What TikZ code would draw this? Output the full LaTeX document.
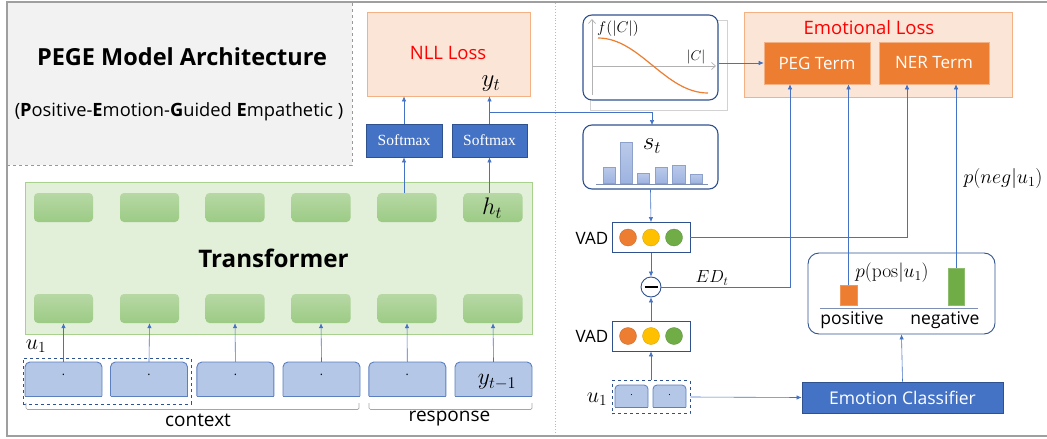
\RequirePackage{fix-cm}
\documentclass[tikz,border=0pt]{standalone}
\usepackage[no-math]{fontspec}
\setmainfont{Open Sans}
\newfontfamily\serifx{Liberation Serif}
\usetikzlibrary{arrows.meta,calc}
\definecolor{lossfill}{HTML}{FBE5D6}
\definecolor{lossdraw}{HTML}{F4B183}
\definecolor{mblue}{HTML}{4472C4}
\definecolor{dblue}{HTML}{2F528F}
\definecolor{lblue}{HTML}{B4C7E7}
\definecolor{lbluedraw}{HTML}{5B7FBF}
\definecolor{tfill}{HTML}{E2F0D9}
\definecolor{tdraw}{HTML}{A9D18E}
\definecolor{gtop}{HTML}{B7D8A4}
\definecolor{gbot}{HTML}{9CCB85}
\definecolor{orng}{HTML}{ED7D31}
\definecolor{yllw}{HTML}{FFC000}
\definecolor{grn}{HTML}{70AD47}
\definecolor{titlegray}{HTML}{F2F2F2}
\definecolor{barblue}{HTML}{9DB3E0}
\definecolor{redtxt}{HTML}{FF0000}
\newcommand{\fs}[1]{\fontsize{#1}{#1}\selectfont}
\tikzset{
  arr/.style={draw=mblue, line width=0.6pt, -{Latex[length=5pt,width=4.5pt]}},
  line/.style={draw=mblue, line width=0.6pt},
  lossbox/.style={draw=lossdraw, fill=lossfill, line width=0.8pt, inner sep=0pt},
  smbox/.style={draw=dblue, fill=mblue, line width=0.8pt, inner sep=0pt, text=white, font=\serifx\fs{15.5}},
  termbox/.style={draw=lossdraw, fill=orng, line width=0.6pt, inner sep=0pt, text=white, font=\fs{17}},
  gblock/.style={rounded corners=4pt, top color=gtop, bottom color=gbot, draw=none, inner sep=0pt, minimum width=59pt, minimum height=29pt},
  rbox/.style={draw=dblue, rounded corners=9pt, line width=1.1pt, inner sep=0pt, fill=white},
  vadbox/.style={draw=dblue, line width=0.9pt, fill=white, inner sep=0pt, minimum width=78pt, minimum height=30pt},
  dot/.style={circle, inner sep=0pt, minimum size=17pt, draw=#1!80!black, line width=0.3pt, fill=#1},
  dbox/.style={draw=dblue, dashed, line width=0.9pt, inner sep=0pt},
  lab/.style={inner sep=0pt},
}
\begin{document}
\begin{tikzpicture}[x=1pt,y=-1pt]
\useasboundingbox (0,0) rectangle (1047,439);
% frame
\fill[titlegray] (8,3) rectangle (352,165);
\draw[gray!80, line width=1pt, dashed] (352,3) -- (352,165) -- (8,165);
\draw[gray!75, line width=1.3pt] (1047,2) -- (7,2) -- (7,436) -- (1047,436);
\draw[gray!55, line width=0.9pt, dotted] (555,3) -- (555,435);
% title
\node[lab, font=\bfseries\fs{23.5}] (title) at (182,57) {PEGE Model Architecture};
\node[lab, font=\fs{18.3}] (subtitle) at (179,112) {(\textbf{P}ositive-\textbf{E}motion-\textbf{G}uided \textbf{E}mpathetic )};

% NLL loss
\node[lossbox, minimum width=163pt, minimum height=84pt] (nll) at (448.5,54) {};
\node[lab, text=redtxt, font=\fs{18.5}] (nlltxt) at (448,53) {NLL Loss};
\node[lab, font=\fs{25}] (yt) at (491,84) {$y_t$};
% softmax
\node[smbox, minimum width=76pt, minimum height=33pt] (sm1) at (404,140.5) {Softmax};
\node[smbox, minimum width=75pt, minimum height=33pt] (sm2) at (489.5,140.5) {Softmax};
\draw[arr] (sm1.north) -- (sm1.north |- nll.south);
\draw[arr] (sm2.north) -- (sm2.north |- nll.south);

% transformer
\node[draw=tdraw, fill=tfill, line width=0.9pt, inner sep=0pt, minimum width=507pt, minimum height=152pt] (tf) at (278.5,258) {};
\node[lab, font=\bfseries\fs{24.2}] (tftxt) at (273.5,258) {Transformer};
\foreach \i/\cx in {1/63.5,2/149.5,3/235,4/321,5/407,6/493}{
  \node[gblock] (bt\i) at (\cx,207.5) {};
  \node[gblock] (bb\i) at (\cx,308.5) {};
}
\node[lab, font=\fs{24}] (ht) at (492,208) {$h_t$};
\draw[arr] (sm1.south |- bt5.north) -- (sm1.south);
\draw[arr] (sm2.south |- bt6.north) -- (sm2.south);

% inputs
\foreach \i/\cx in {1/63.5,2/149,3/235.4,4/321.5,5/407.3,6/493.5}{
  \fill[lblue, rounded corners=5pt] (\cx-38.5,362) rectangle (\cx+38.5,396);
  \fill[lblue] (\cx-38.5,380) rectangle (\cx+38.5,396);
  \draw[lbluedraw, line width=0.9pt, rounded corners=5pt] (\cx-38.5,396) -- (\cx-38.5,362) -- (\cx+38.5,362) -- (\cx+38.5,396);
  \draw[lbluedraw, line width=0.9pt] (\cx-38.5,396) -- (\cx+38.5,396);
  \node[lab, minimum width=77pt, minimum height=34pt] (in\i) at (\cx,379) {};
  \draw[arr] (in\i.north) -- (bb\i.south);
}
\foreach \i in {1,...,5}{ \node[lab, font=\fs{12}] at ($(in\i.center)+(0,-4)$) {.}; }
\node[lab, font=\fs{23.5}] (ytm) at (497,382) {$y_{t-1}$};
\node[dbox, minimum width=168pt, minimum height=46pt] (u1box) at (107.3,381) {};
\node[lab, font=\fs{22}] (u1lab) at (36,346) {$u_1$};
% brackets
\draw[gray!70, line width=0.7pt, rounded corners=1.5pt] (26,403) -- (26,409.5) -- (359,409.5) -- (359,403);
\draw[gray!70, line width=0.7pt, rounded corners=1.5pt] (369,403) -- (369,409.5) -- (532,409.5) -- (532,403);
\node[lab, font=\fs{19}] (ctx) at (198,420) {context};
\node[lab, font=\fs{19}] (resp) at (449.5,419) {response};

% branch y_t to s_t
\coordinate (branch) at (489.5,112);
\draw[gray!35, line width=0.6pt] (590,20) rectangle (727,110);

% f(|C|) box
\node[rbox, minimum width=135pt, minimum height=85pt] (fc) at (650.5,57.5) {};
\draw[gray!60, line width=0.7pt, -{Straight Barb[length=4pt,width=7pt]}] (592,95) -- (592,19);
\draw[gray!60, line width=0.7pt, -{Straight Barb[length=4pt,width=7pt]}] (592,66) -- (716,66);
\draw[orng, line width=1.2pt] (598,38) .. controls (640,38) and (665,93) .. (708,93);
\node[lab, font=\fs{15.5}] (fclab) at (618,29) {$f(|C|)$};
\node[lab, font=\fs{14}] (clab) at (696,57) {$|C|$};
\draw[line] (branch) -| ($(branch)+(162.5,0)$);
\draw[arr] ($(branch)+(162.5,0)$) -- (652,125);

% emotional loss
\node[lossbox, minimum width=268pt, minimum height=85pt] (el) at (878,54.5) {};
\node[lab, text=redtxt, font=\fs{18.5}] (eltxt) at (869,28) {Emotional Loss};
\node[termbox, minimum width=106pt, minimum height=42pt] (peg) at (817,63) {PEG Term};
\node[termbox, minimum width=110pt, minimum height=42pt] (ner) at (934,63) {NER Term};
\draw[arr] (fc.east |- peg.west) -- (peg.west);

% s_t
\node[rbox, minimum width=135pt, minimum height=64pt] (st) at (650.5,157) {};
\node[lab, font=\fs{25}] (stlab) at (652,146) {$s_t$};
\foreach \a/\b/\t in {603/615/167,620/632/142,637/649/173,655/667/167,672/685/165,690/702/174}{
  \fill[top color=barblue!70, bottom color=barblue, draw=barblue!90!black, line width=0.2pt] (\a,\t) rectangle (\b,183);
}
\draw[barblue!80!black, line width=0.7pt] (596,184) -- (708,184);

% VAD
\node[vadbox] (vad1) at (651,237.5) {};
\node[vadbox] (vad2) at (651,336) {};
\foreach \v in {1,2}{
  \node[dot=orng] at ($(vad\v.center)+(-23,0)$) {};
  \node[dot=yllw] at ($(vad\v.center)+(0,0)$) {};
  \node[dot=grn] at ($(vad\v.center)+(23,0)$) {};
}
\node[lab, font=\fs{17}] (vadl1) at (592,238) {VAD};
\node[lab, font=\fs{17}] (vadl2) at (592,336) {VAD};
\node[circle, draw=dblue, fill=white, line width=0.9pt, minimum size=20pt, inner sep=0pt] (minus) at (651,287) {};
\draw[black, line width=1.8pt] ([xshift=-6.5pt]minus.center) -- ([xshift=6.5pt]minus.center);
\draw[arr] (st.south) -- (vad1.north);
\draw[arr] (vad1.south) -- (minus.north);
\draw[arr] (vad2.north) -- (minus.south);
\node[lab, font=\fs{17.5}] (edt) at (712,278) {$ED_t$};

% u1 right
\node[dbox, minimum width=78pt, minimum height=33pt] (u1r) at (651,397) {};
\foreach \cx in {631.5,669.5}{
  \fill[lblue, rounded corners=4pt] (\cx-16.5,385) rectangle (\cx+16.5,407);
  \fill[lblue] (\cx-16.5,396) rectangle (\cx+16.5,407);
  \draw[lbluedraw, line width=0.8pt, rounded corners=4pt] (\cx-16.5,407) -- (\cx-16.5,385) -- (\cx+16.5,385) -- (\cx+16.5,407);
  \draw[lbluedraw, line width=0.8pt] (\cx-16.5,407) -- (\cx+16.5,407);
  \node[lab, font=\fs{9}] at (\cx,395) {.};
}
\node[lab, font=\fs{22}] (u1rlab) at (597,399) {$u_1$};
\draw[arr] (u1r.north) -- (vad2.south);

% classifier
\node[draw=dblue, fill=mblue, line width=0.8pt, inner sep=0pt, minimum width=201pt, minimum height=31pt, text=white, font=\fs{17.5}] (ec) at (902.5,397.5) {Emotion Classifier};
\draw[arr] (u1r.east) -- (ec.west);
\node[rbox, rounded corners=11pt, line width=0.9pt, minimum width=187pt, minimum height=81pt] (cls) at (901.5,293.5) {};
\draw[arr] (ec.north) -- (cls.south);
\draw[barblue!80!black, line width=0.7pt] (820,308) -- (978,308);
\node[draw=orng!80!white, fill=orng, inner sep=0pt, minimum width=17pt, minimum height=20pt] (posbar) at (848.5,295.5) {};
\node[draw=grn!80!white, fill=grn, inner sep=0pt, minimum width=16pt, minimum height=37pt] (negbar) at (956,286.5) {};
\node[lab, font=\fs{19.5}] (plab) at (892,273) {$p(\mathrm{pos}|u_1)$};
\node[lab, font=\fs{17.5}] (posl) at (852,320) {positive};
\node[lab, font=\fs{17.5}] (negl) at (945,320) {negative};
\node[lab, font=\fs{20}] (nlab) at (1003,178) {$p(neg|u_1)$};

% connectors to terms
\draw[arr] (minus.east) -| ([xshift=-27pt]peg.south);
\draw[arr] (posbar.north) -- (posbar.north |- peg.south);
\draw[arr] (vad1.east) -| ([xshift=-27pt]ner.south);
\draw[arr] (negbar.north) -- (negbar.north |- ner.south);
\end{tikzpicture}
\end{document}
